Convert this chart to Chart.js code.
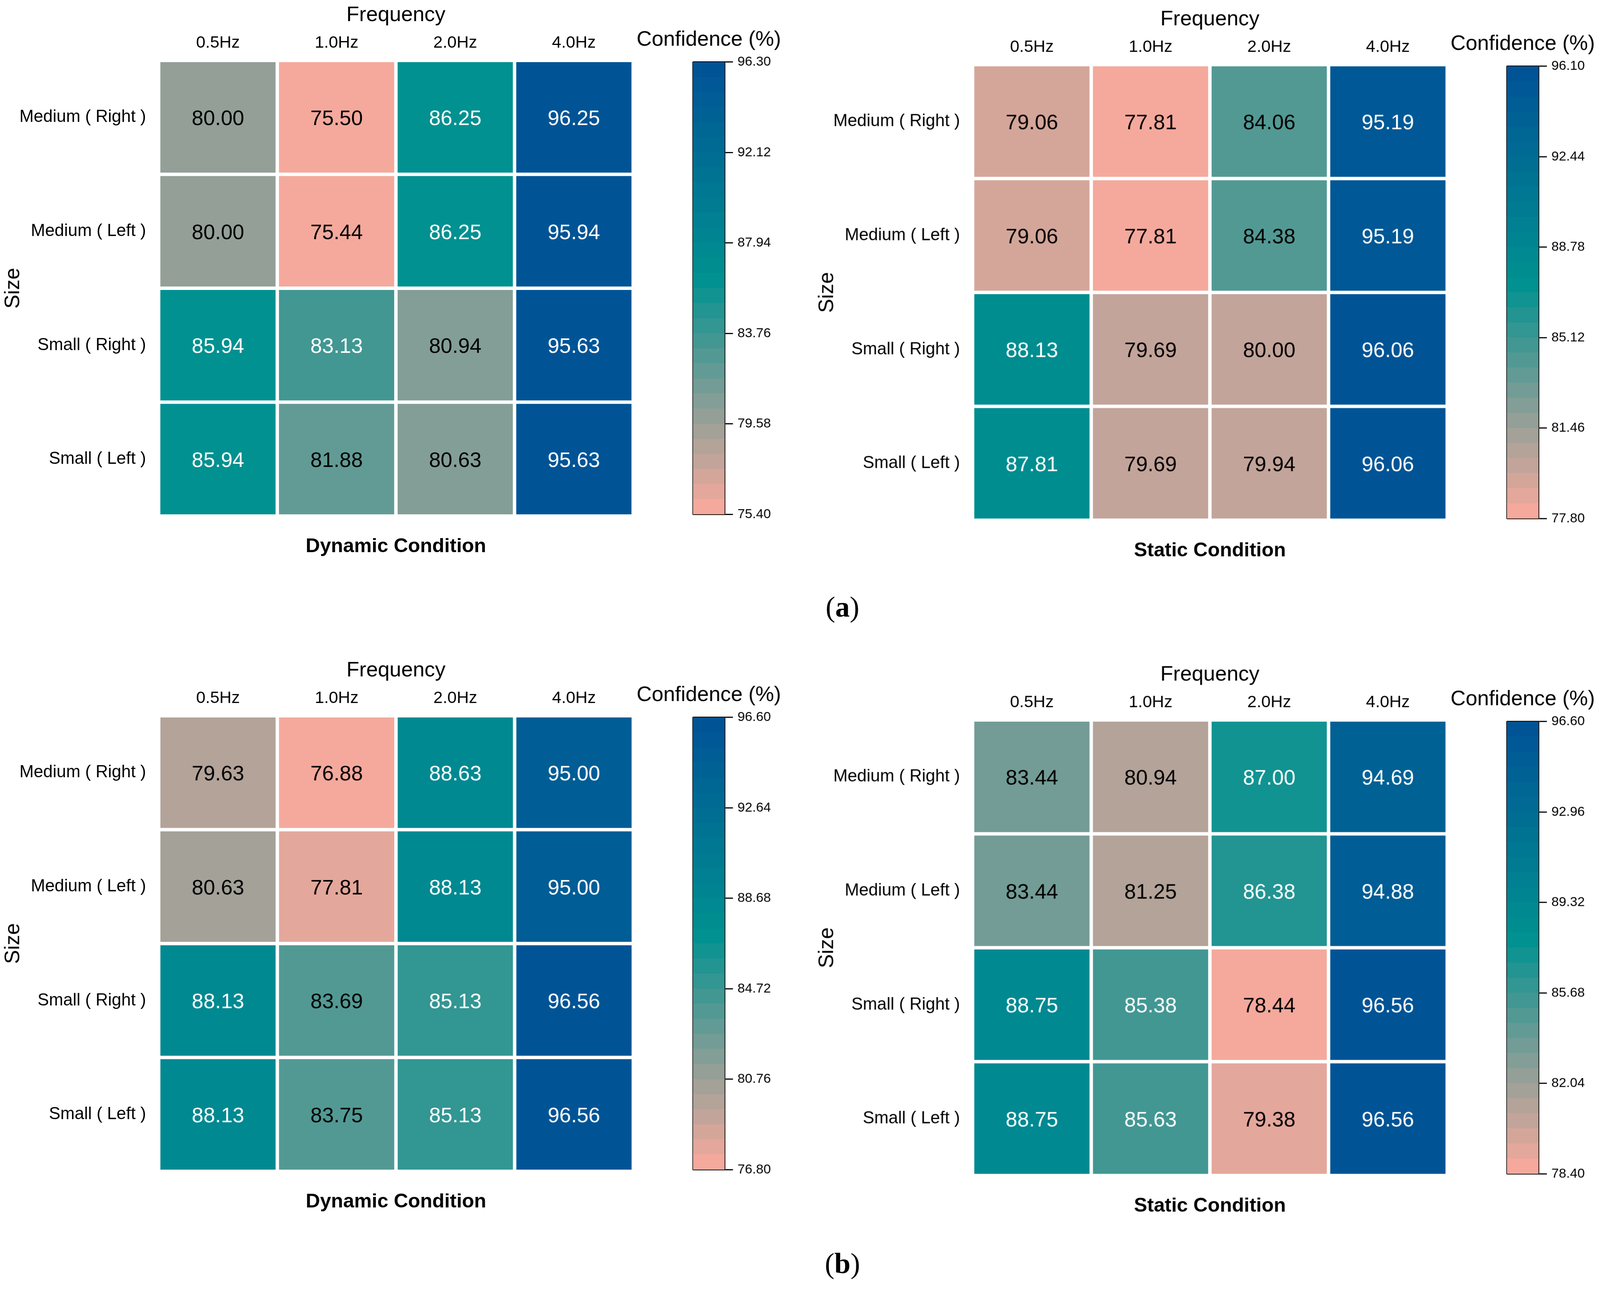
<!DOCTYPE html>
<html>
<head>
<meta charset="utf-8">
<script src="https://cdn.jsdelivr.net/npm/chart.js@4.4.1/dist/chart.umd.min.js"></script>
<style>
  html, body { margin:0; padding:0; background:#fff; overflow:hidden; }
  #wrap { width:4201px; height:3355px; position:absolute; left:0; top:0; transform-origin:0 0; background:#fff; }
  canvas { position:absolute; }
  .lab { position:absolute; font-family:"Liberation Serif","Times New Roman",serif; font-size:76px; line-height:1; transform:translate(-50%,-50%); color:#000; white-space:nowrap; }
</style>
</head>
<body>
<div id="wrap">
<div class="lab" style="left:2212px; top:1592px;">(<b>a</b>)</div>
<div class="lab" style="left:2212px; top:3316px;">(<b>b</b>)</div>
</div>
<script>
// ---------------- DATA ----------------
const freqs = ['0.5Hz', '1.0Hz', '2.0Hz', '4.0Hz'];
const sizes = ['Medium ( Right )', 'Medium ( Left )', 'Small ( Right )', 'Small ( Left )'];

const dynA = [
  [80.00, 75.50, 86.25, 96.25],
  [80.00, 75.44, 86.25, 95.94],
  [85.94, 83.13, 80.94, 95.63],
  [85.94, 81.88, 80.63, 95.63]
];
const staA = [
  [79.06, 77.81, 84.06, 95.19],
  [79.06, 77.81, 84.38, 95.19],
  [88.13, 79.69, 80.00, 96.06],
  [87.81, 79.69, 79.94, 96.06]
];
const dynB = [
  [79.63, 76.88, 88.63, 95.00],
  [80.63, 77.81, 88.13, 95.00],
  [88.13, 83.69, 85.13, 96.56],
  [88.13, 83.75, 85.13, 96.56]
];
const staB = [
  [83.44, 80.94, 87.00, 94.69],
  [83.44, 81.25, 86.38, 94.88],
  [88.75, 85.38, 78.44, 96.56],
  [88.75, 85.63, 79.38, 96.56]
];

const rangeDynA = [75.40, 96.30];
const rangeStaA = [77.80, 96.10];
const rangeDynB = [76.80, 96.60];
const rangeStaB = [78.40, 96.60];

const ticksDynA = ['75.40', '79.58', '83.76', '87.94', '92.12', '96.30'];
const ticksStaA = ['77.80', '81.46', '85.12', '88.78', '92.44', '96.10'];
const ticksDynB = ['76.80', '80.76', '84.72', '88.68', '92.64', '96.60'];
const ticksStaB = ['78.40', '82.04', '85.68', '89.32', '92.96', '96.60'];

const condDyn = 'Dynamic Condition';
const condSta = 'Static Condition';

// ---------------- STYLE ----------------
const FONT = '"Liberation Sans", Arial, Helvetica, sans-serif';
const NLEV = 30;
const STOPS = [[0, [244, 169, 156]], [0.52, [0, 145, 144]], [1, [0, 84, 150]]];

const wrap = document.getElementById('wrap');
const K = Math.min(window.innerWidth / 4201, window.innerHeight / 3355);
wrap.style.transform = 'scale(' + K + ')';
const DPR = (window.devicePixelRatio || 1) * K;

function cmap(s) {
  for (let k = 0; k < STOPS.length - 1; k++) {
    const [a, ca] = STOPS[k], [b, cb] = STOPS[k + 1];
    if (s <= b || k === STOPS.length - 2) {
      const u = Math.max(0, Math.min(1, (s - a) / (b - a)));
      const c = ca.map((v, i) => Math.round(v + (cb[i] - v) * u));
      return 'rgb(' + c.join(',') + ')';
    }
  }
}
function level(v, r) {
  return Math.max(0, Math.min(NLEV - 1, Math.floor((v - r[0]) / (r[1] - r[0]) * NLEV)));
}
function cellColor(v, r) { return cmap(level(v, r) / (NLEV - 1)); }

Chart.defaults.font.family = FONT;
Chart.defaults.color = '#000';

function addCanvas(left, top, w, h) {
  const c = document.createElement('canvas');
  c.style.left = left + 'px'; c.style.top = top + 'px';
  c.style.width = w + 'px'; c.style.height = h + 'px';
  c.width = w; c.height = h;
  wrap.appendChild(c);
  return c;
}

const valueLabels = {
  id: 'valueLabels',
  afterDatasetsDraw(chart, args, opts) {
    const ctx = chart.ctx;
    ctx.save();
    ctx.font = '55px ' + FONT;
    ctx.textAlign = 'center';
    ctx.textBaseline = 'middle';
    chart.data.datasets.forEach((ds, i) => {
      const meta = chart.getDatasetMeta(i);
      meta.data.forEach((el, j) => {
        const v = opts.vals[i][j];
        const p = el.getCenterPoint();
        ctx.fillStyle = level(v, opts.range) >= 11 ? '#ffffff' : '#000000';
        ctx.fillText(v.toFixed(2), p.x, p.y + 5);
      });
    });
    ctx.restore();
  }
};

function makePanel(p) {
  // ---- heatmap ----
  const W = 1670, H = 1481;
  const cv = addCanvas(p.dx, p.dy, W, H);
  new Chart(cv, {
    type: 'bar',
    data: {
      labels: freqs,
      datasets: p.vals.map((row, i) => ({
        data: row.map(() => [i, i + 1]),
        backgroundColor: row.map(v => cellColor(v, p.range)),
        borderColor: '#ffffff',
        borderWidth: 4.5,
        borderSkipped: false,
        grouped: false,
        barPercentage: 1,
        categoryPercentage: 1,
        inflateAmount: 0
      }))
    },
    options: {
      responsive: false, maintainAspectRatio: false, animation: false, devicePixelRatio: DPR,
      layout: { padding: { top: 0, left: 0, right: 7.5, bottom: 0 } },
      plugins: {
        legend: { display: false }, tooltip: { enabled: false },
        title: {
          display: true, position: 'bottom', fullSize: false, text: p.title,
          font: { size: 52, weight: 'bold', family: FONT }, color: '#000',
          padding: { top: 49, bottom: 15 }
        },
        valueLabels: { vals: p.vals, range: p.range }
      },
      scales: {
        x: {
          position: 'top', offset: true,
          grid: { display: false, drawTicks: false }, border: { display: false },
          ticks: { padding: 19, font: { size: 44 }, color: '#000', maxRotation: 0 },
          title: { display: true, text: 'Frequency', font: { size: 55 }, color: '#000', padding: { top: 7, bottom: 0 } },
          afterFit: s => { s.height = 158.5; }
        },
        y: {
          type: 'linear', min: 0, max: sizes.length, reverse: true,
          grid: { display: false, drawTicks: false }, border: { display: false },
          afterBuildTicks: s => { s.ticks = sizes.map((_, i) => ({ value: i + 0.5 })); },
          ticks: { callback: (v, idx) => sizes[idx], padding: 33, font: { size: 45 }, color: '#000' },
          title: { display: true, text: 'Size', font: { size: 55 }, color: '#000', padding: { top: 2, bottom: 0 } },
          afterFit: s => { s.width = 416.5; }
        }
      }
    },
    plugins: [valueLabels]
  });

  // ---- colorbar ----
  const r = p.range;
  const step = (r[1] - r[0]) / NLEV;
  const bands = [];
  for (let k = 0; k < NLEV; k++) bands.push(k);
  const tickVals = p.ticks.map(Number);
  const cw = 400, ch = 1400;
  const cc = addCanvas(p.dx + 1660.5, p.dy, cw, ch);
  new Chart(cc, {
    type: 'bar',
    data: {
      labels: [''],
      datasets: bands.map(k => ({
        data: [[r[0] + k * step, r[0] + (k + 1) * step]],
        backgroundColor: cmap(k / (NLEV - 1)),
        borderWidth: 0,
        grouped: false,
        barPercentage: 1,
        categoryPercentage: 1,
        inflateAmount: 0.6
      }))
    },
    options: {
      responsive: false, maintainAspectRatio: false, animation: false, devicePixelRatio: DPR,
      layout: { padding: { top: 0, left: 0, right: 0, bottom: 50 } },
      plugins: {
        legend: { display: false }, tooltip: { enabled: false },
        title: {
          display: true, position: 'top', text: 'Confidence (%)',
          font: { size: 55, weight: 'normal', family: FONT }, color: '#000',
          padding: { top: 72, bottom: 25 }
        }
      },
      scales: {
        x: { display: false, offset: true },
        y: {
          type: 'linear', position: 'right', min: r[0], max: r[1], z: 1,
          afterBuildTicks: s => { s.ticks = tickVals.map(v => ({ value: v })); },
          ticks: { callback: (v, idx) => p.ticks[idx], padding: 12, font: { size: 35 }, color: '#000' },
          grid: {
            display: true, drawOnChartArea: true, drawTicks: true,
            color: ctx => (ctx.index === 0 || ctx.index === tickVals.length - 1) ? '#000' : 'rgba(0,0,0,0)',
            lineWidth: 3, tickColor: '#000', tickLength: 22, tickWidth: 3
          },
          border: { display: true, color: '#000', width: 3.5 },
          afterFit: s => { s.width = 158.5; }
        },
        y2: {
          type: 'linear', position: 'left', min: r[0], max: r[1], z: 1,
          ticks: { display: false },
          grid: { display: false, drawTicks: false },
          border: { display: true, color: '#000', width: 2.5 },
          afterFit: s => { s.width = 158.5; }
        }
      }
    }
  });
}

const panels = [
  { vals: dynA, title: condDyn, range: rangeDynA, ticks: ticksDynA, dx: 0, dy: 0 },
  { vals: staA, title: condSta, range: rangeStaA, ticks: ticksStaA, dx: 2137.4, dy: 11 },
  { vals: dynB, title: condDyn, range: rangeDynB, ticks: ticksDynB, dx: 0, dy: 1720 },
  { vals: staB, title: condSta, range: rangeStaB, ticks: ticksStaB, dx: 2137.4, dy: 1731 }
];
panels.forEach(makePanel);
</script>
</body>
</html>
